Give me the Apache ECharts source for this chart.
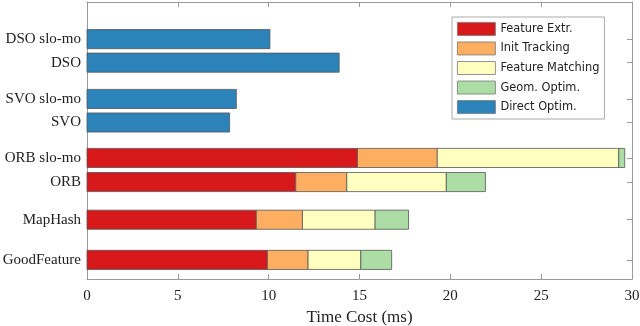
<!DOCTYPE html>
<html lang="en">
<head>
    <meta charset="UTF-8">
    <title>Time Cost</title>
    <script src="https://cdn.jsdelivr.net/npm/echarts@6/dist/echarts.min.js"></script>
</head>
<body style="margin:0;background:#fff;">
<div id="chart" style="width:640px;height:326px;"></div>
<script type="text/javascript">

    // 数据
    var categories = ['DSO slo-mo', 'DSO', 'SVO slo-mo', 'SVO', 'ORB slo-mo', 'ORB', 'MapHash', 'GoodFeature'];
    var yPos = [8.66, 7.81, 6.50, 5.65, 4.37, 3.50, 2.14, 0.69];
    var featureExtr     = [0, 0, 0, 0, 14.89, 11.49, 9.32, 9.93];
    var initTracking    = [0, 0, 0, 0, 4.39, 2.81, 2.54, 2.24];
    var featureMatching = [0, 0, 0, 0, 9.99, 5.48, 4.00, 2.90];
    var geomOptim       = [0, 0, 0, 0, 0.33, 2.15, 1.84, 1.70];
    var directOptim     = [10.07, 13.88, 8.22, 7.85, 0, 0, 0, 0];

    var stages = [
        {name: 'Feature Extr.', values: featureExtr, color: '#d7191c'},
        {name: 'Init Tracking', values: initTracking, color: '#fdae61'},
        {name: 'Feature Matching', values: featureMatching, color: '#ffffbf'},
        {name: 'Geom. Optim.', values: geomOptim, color: '#abdda4'},
        {name: 'Direct Optim.', values: directOptim, color: '#2b83ba'}
    ];

    // 累加，得到每段的起止
    var offset = categories.map(function () { return 0; });
    var series = stages.map(function (st) {
        var data = [];
        st.values.forEach(function (v, i) {
            if (v > 0) {
                data.push([offset[i], offset[i] + v, yPos[i]]);
                offset[i] += v;
            }
        });
        return {
            name: st.name,
            type: 'custom',
            itemStyle: {color: st.color},
            encode: {x: [0, 1], y: 2},
            renderItem: function (params, api) {
                var y = api.value(2);
                var p0 = api.coord([api.value(0), y]);
                var p1 = api.coord([api.value(1), y]);
                var h = api.size([0, 0.69])[1];
                return {
                    type: 'rect',
                    shape: {x: p0[0], y: p0[1] - h / 2, width: p1[0] - p0[0], height: h},
                    style: {fill: api.visual('color'), stroke: '#555', lineWidth: 0.8}
                };
            },
            data: data
        };
    });

    var serif = '"Liberation Serif", "Times New Roman", serif';
    var axisGray = '#999';

    var chart = echarts.init(document.getElementById('chart'));
    chart.setOption({
        animation: false,
        grid: {left: 87, top: 2, right: 8, bottom: 47, containLabel: false, outerBoundsMode: 'none'},
        legend: {
            orient: 'vertical',
            left: 452,
            top: 17,
            padding: 5,
            itemWidth: 38,
            itemHeight: 13,
            itemGap: 5.75,
            icon: 'rect',
            backgroundColor: '#fff',
            borderColor: '#aaa',
            borderWidth: 1,
            borderRadius: 0,
            itemStyle: {borderColor: '#777', borderWidth: 0.8},
            textStyle: {fontFamily: '"DejaVu Sans", sans-serif', fontSize: 11.4, color: '#222', lineHeight: 13},
            data: stages.map(function (s) { return s.name; })
        },
        xAxis: [{
            type: 'value',
            min: 0,
            max: 30,
            interval: 5,
            position: 'bottom',
            name: 'Time Cost (ms)',
            nameLocation: 'middle',
            nameGap: 29,
            nameTextStyle: {fontFamily: serif, fontSize: 17, color: '#222'},
            axisLine: {show: true, onZero: false, lineStyle: {color: axisGray}},
            axisTick: {show: true, inside: true, length: 5, lineStyle: {color: axisGray}},
            axisLabel: {fontFamily: serif, fontSize: 15, color: '#222', margin: 10},
            splitLine: {show: false}
        }, {
            type: 'value',
            min: 0,
            max: 30,
            interval: 5,
            position: 'top',
            axisLine: {show: true, onZero: false, lineStyle: {color: axisGray}},
            axisTick: {show: true, inside: true, length: 5, lineStyle: {color: axisGray}},
            axisLabel: {show: false},
            splitLine: {show: false}
        }],
        yAxis: [{
            type: 'value',
            min: 0,
            max: 10,
            position: 'left',
            axisLine: {show: true, onZero: false, lineStyle: {color: axisGray}},
            axisTick: {show: true, inside: true, length: 5, customValues: yPos, lineStyle: {color: axisGray}},
            axisLabel: {
                fontFamily: serif, fontSize: 15, color: '#222', margin: 6,
                customValues: yPos,
                formatter: function (v) {
                    var best = 0;
                    yPos.forEach(function (p, i) {
                        if (Math.abs(p - v) < Math.abs(yPos[best] - v)) best = i;
                    });
                    return categories[best];
                }
            },
            splitLine: {show: false}
        }, {
            type: 'value',
            min: 0,
            max: 10,
            position: 'right',
            axisLine: {show: true, onZero: false, lineStyle: {color: axisGray}},
            axisTick: {show: true, inside: true, length: 5, customValues: yPos, lineStyle: {color: axisGray}},
            axisLabel: {show: false},
            splitLine: {show: false}
        }],
        series: series
    });
</script>
</body>
</html>
